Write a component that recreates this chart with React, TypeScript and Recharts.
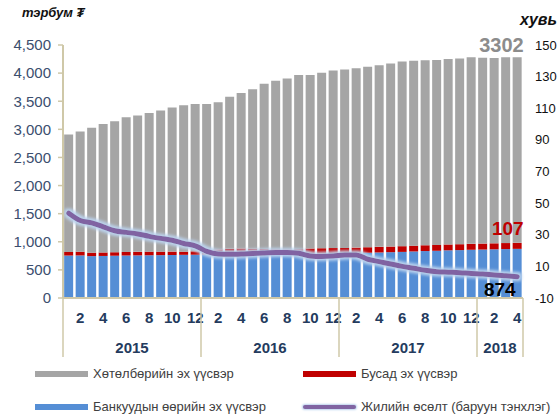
import React from "react";
import {
  ComposedChart,
  Bar,
  Line,
  XAxis,
  YAxis,
  LabelList,
} from "recharts";

// months Jan 2015 .. Apr 2018
const monthNo = [
  1, 2, 3, 4, 5, 6, 7, 8, 9, 10, 11, 12,
  1, 2, 3, 4, 5, 6, 7, 8, 9, 10, 11, 12,
  1, 2, 3, 4, 5, 6, 7, 8, 9, 10, 11, 12,
  1, 2, 3, 4,
];
const yearLabels = ["2015", "2016", "2017", "2018"];
const yearCounts = [12, 12, 12, 4];

const blue = [
  755, 757, 745, 748, 752, 755, 758, 760, 762, 765, 768, 770,
  775, 785, 790, 790, 785, 780, 775, 770, 770, 780, 785, 790,
  795, 800, 805, 810, 815, 820, 828, 835, 840, 848, 852, 858,
  862, 866, 870, 874,
];
const red = [
  65, 66, 60, 62, 62, 64, 63, 64, 62, 60, 55, 60,
  70, 78, 85, 90, 92, 92, 93, 95, 98, 100, 100, 98,
  95, 96, 98, 100, 100, 102, 102, 103, 104, 104, 105, 105,
  106, 106, 107, 107,
];
const gray = [
  2090, 2137, 2225, 2285, 2331, 2396, 2424, 2466, 2511, 2565, 2607, 2620,
  2605, 2617, 2705, 2765, 2838, 2938, 2997, 3040, 3097, 3085, 3120, 3157,
  3175, 3189, 3212, 3230, 3255, 3283, 3290, 3292, 3291, 3298, 3303, 3317,
  3307, 3298, 3306, 3302,
];
const growth = [
  43.6, 39, 37.5, 35, 32.5, 31.5, 30.5, 29, 27.7, 26.5, 24.5, 23,
  19.5, 17.8, 17.6, 17.8, 18.2, 18.5, 18.8, 18.8, 18.3, 16.6, 16.2, 16.5,
  17.2, 17.2, 14.5, 13, 11.5, 10, 8.8, 7.5, 6.6, 6.3, 6, 5.5,
  5.2, 4.5, 4, 3.5,
];

const leftTicks = [0, 500, 1000, 1500, 2000, 2500, 3000, 3500, 4000, 4500];
const rightTicks = [-10, 10, 30, 50, 70, 90, 110, 130, 150];

const W = 559;
const H = 416;
const PLOT_LEFT = 63;
const PLOT_RIGHT = 523;
const PLOT_TOP = 45;
const PLOT_BOTTOM = 298;
const BAND = (PLOT_RIGHT - PLOT_LEFT) / monthNo.length;
const FONT = "'Liberation Sans', Arial, sans-serif";
const AXIS_COLOR = "#CFC8A8";
const LAST = monthNo.length - 1;

const data = monthNo.map((m, i) => ({
  idx: i,
  month: m,
  blue: blue[i],
  red: red[i],
  gray: gray[i],
  growth: growth[i],
}));

// start index of each year group
const yearStart: number[] = [];
yearCounts.reduce((acc, c) => {
  yearStart.push(acc);
  return acc + c;
}, 0);

const MonthTick = (props: any) => {
  const { x, payload } = props;
  const i = payload.index;
  const m = monthNo[i];
  const y = PLOT_BOTTOM;
  const parts: React.ReactNode[] = [];
  if (m % 2 === 0) {
    parts.push(
      <text
        key="m"
        x={x}
        y={y + 25}
        textAnchor="middle"
        fontFamily={FONT}
        fontWeight="bold"
        fontSize={15}
        fill="#243B5E"
      >
        {m}
      </text>
    );
  }
  const g = yearStart.indexOf(i);
  if (g >= 0) {
    const left = x - BAND / 2;
    parts.push(
      <line key="s" x1={left} x2={left} y1={y} y2={y + 59} stroke={AXIS_COLOR} strokeWidth={1.5} />
    );
    parts.push(
      <text
        key="y"
        x={left + (yearCounts[g] * BAND) / 2}
        y={y + 55}
        textAnchor="middle"
        fontFamily={FONT}
        fontWeight="bold"
        fontSize={15}
        fill="#243B5E"
      >
        {yearLabels[g]}
      </text>
    );
  }
  if (i === LAST) {
    const right = x + BAND / 2;
    parts.push(
      <line key="e" x1={right} x2={right} y1={y} y2={y + 59} stroke={AXIS_COLOR} strokeWidth={1.5} />
    );
  }
  return <g>{parts}</g>;
};

// label drawn only at the last bar; fromBottom anchors it to the bar's base
const lastLabel = (text: string, color: string, size: number, dy: number, dx = 2, fromBottom = false) =>
  (props: any) => {
    const { x, y, width, height, index } = props;
    if (index !== LAST) return null;
    const base = fromBottom ? y + height : y;
    return (
      <text
        x={x + width + dx}
        y={base + dy}
        textAnchor="end"
        fontFamily={FONT}
        fontWeight="bold"
        fontSize={size}
        fill={color}
      >
        {text}
      </text>
    );
  };

const legendRows = [
  [
    { name: "Хөтөлбөрийн эх үүсвэр", color: "#A5A5A5", line: false },
    { name: "Бусад эх үүсвэр", color: "#C00000", line: false },
  ],
  [
    { name: "Банкуудын өөрийн эх үүсвэр", color: "#558ED5", line: false },
    { name: "Жилийн өсөлт (баруун тэнхлэг)", color: "#8064A2", line: true },
  ],
];

export default function App() {
  return (
    <div style={{ position: "absolute", left: 0, top: 0, width: W, height: H, background: "#fff" }}>
      <div
        style={{
          position: "absolute",
          left: 22,
          top: 5,
          fontFamily: FONT,
          fontStyle: "italic",
          fontWeight: "bold",
          fontSize: 13,
          color: "#111",
        }}
      >
        тэрбум ₮
      </div>
      <div
        style={{
          position: "absolute",
          left: 520,
          top: 11,
          fontFamily: FONT,
          fontStyle: "italic",
          fontWeight: "bold",
          fontSize: 16,
          color: "#111",
        }}
      >
        хувь
      </div>
      <ComposedChart
        width={W}
        height={H}
        data={data}
        margin={{ top: PLOT_TOP, left: 8, right: 6, bottom: H - PLOT_BOTTOM - 60 }}
        barCategoryGap="10%"
      >
        <defs>
          <filter id="glow" x="-10%" y="-50%" width="120%" height="200%">
            <feMorphology in="SourceAlpha" operator="dilate" radius="1.5" result="d" />
            <feGaussianBlur in="d" stdDeviation="1.5" result="b" />
            <feFlood floodColor="#BCD3EE" result="c" />
            <feComposite in="c" in2="b" operator="in" result="g" />
            <feMerge>
              <feMergeNode in="g" />
              <feMergeNode in="SourceGraphic" />
            </feMerge>
          </filter>
        </defs>
        <XAxis
          dataKey="idx"
          type="category"
          interval={0}
          height={60}
          tickLine={false}
          tickSize={0}
          axisLine={{ stroke: AXIS_COLOR, strokeWidth: 2 }}
          tick={<MonthTick />}
        />
        <YAxis
          yAxisId="left"
          width={55}
          domain={[0, 4500]}
          ticks={leftTicks}
          interval={0}
          tickFormatter={(v: number) => v.toLocaleString("en-US")}
          axisLine={{ stroke: AXIS_COLOR, strokeWidth: 2 }}
          tickLine={{ stroke: AXIS_COLOR, strokeWidth: 1.5 }}
          tickSize={5}
          tickMargin={7}
          tick={{ fill: "#3B4E6E", fontSize: 15, fontFamily: FONT }}
        />
        <YAxis
          yAxisId="right"
          orientation="right"
          width={30}
          domain={[-10, 150]}
          ticks={rightTicks}
          interval={0}
          axisLine={false}
          tickLine={false}
          tickSize={0}
          tickMargin={12}
          tick={{ fill: "#111", fontSize: 13, fontFamily: FONT }}
        />
        <Bar yAxisId="left" dataKey="blue" stackId="a" fill="#558ED5" isAnimationActive={false}>
          <LabelList dataKey="blue" content={lastLabel("874", "#000", 19, -2, -6, true) as any} />
        </Bar>
        <Bar yAxisId="left" dataKey="red" stackId="a" fill="#C00000" isAnimationActive={false}>
          <LabelList dataKey="red" content={lastLabel("107", "#C00000", 19, -8) as any} />
        </Bar>
        <Bar yAxisId="left" dataKey="gray" stackId="a" fill="#A5A5A5" isAnimationActive={false}>
          <LabelList dataKey="gray" content={lastLabel("3302", "#8C8C8C", 20, -5) as any} />
        </Bar>
        <Line
          yAxisId="right"
          type="monotone"
          dataKey="growth"
          stroke="#8064A2"
          strokeWidth={5}
          strokeLinecap="round"
          dot={false}
          activeDot={false}
          filter="url(#glow)"
          isAnimationActive={false}
        />
      </ComposedChart>
      {legendRows.map((row, r) =>
        row.map((item, c) => {
          const top = r === 0 ? 374 : 407;
          const left = c === 0 ? 35 : 303;
          return (
            <div key={`${r}-${c}`}>
              <div
                style={{
                  position: "absolute",
                  left,
                  top: top - (item.line ? 2 : 3),
                  width: 53,
                  height: item.line ? 4 : 6,
                  borderRadius: item.line ? 2 : 0,
                  background: item.color,
                  boxShadow: item.line ? "0 0 2px 1px #BCD3EE" : "none",
                }}
              />
              <div
                style={{
                  position: "absolute",
                  left: left + 58,
                  top: top - 9,
                  fontFamily: FONT,
                  fontSize: 13,
                  lineHeight: "18px",
                  color: "#404040",
                  whiteSpace: "nowrap",
                }}
              >
                {item.name}
              </div>
            </div>
          );
        })
      )}
    </div>
  );
}
